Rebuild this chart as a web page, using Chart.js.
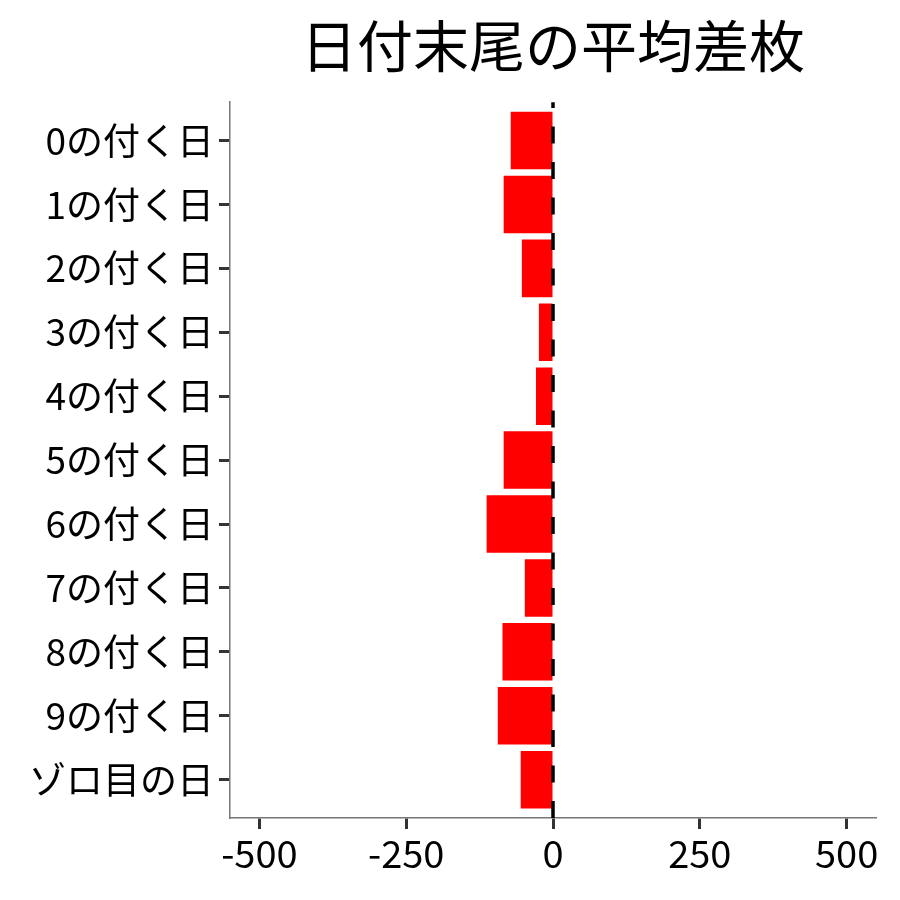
<!DOCTYPE html>
<html>
<head>
<meta charset="utf-8">
<script src="https://cdn.jsdelivr.net/npm/chart.js@4"></script>
<style>
  html, body { margin: 0; padding: 0; background: #fff; }
  #wrap { width: 900px; height: 900px; }
</style>
</head>
<body>
<div id="wrap"><canvas id="c" width="900" height="900"></canvas></div>
<script>
const titleText = '日付末尾の平均差枚';
const categories = ['0の付く日','1の付く日','2の付く日','3の付く日','4の付く日','5の付く日','6の付く日','7の付く日','8の付く日','9の付く日','ゾロ目の日'];
const avgDiff = [-72, -84, -53, -24, -29, -84, -113, -48, -86, -94, -55];
const xTicks = [-500, -250, 0, 250, 500];
const xMin = -550, xMax = 550;
const zeroLine = 0;

const FONT = '"Noto Sans CJK JP", "Noto Sans", sans-serif';

const dashedZero = {
  id: 'dashedZero',
  afterDatasetsDraw(chart) {
    const {ctx, chartArea, scales} = chart;
    const x = scales.x.getPixelForValue(zeroLine);
    ctx.save();
    ctx.beginPath();
    ctx.rect(chartArea.left, chartArea.top, chartArea.right - chartArea.left, chartArea.bottom - chartArea.top);
    ctx.clip();
    ctx.strokeStyle = '#000';
    ctx.lineWidth = 3.5;
    ctx.setLineDash([17, 18.5]);
    ctx.beginPath();
    ctx.moveTo(x, chartArea.bottom);
    ctx.lineTo(x, chartArea.top - 40);
    ctx.stroke();
    ctx.restore();
  }
};

new Chart(document.getElementById('c'), {
  type: 'bar',
  data: {
    datasets: [{
      data: avgDiff.map((v, i) => ({x: v, y: i + 1})),
      backgroundColor: '#FF0000',
      borderWidth: 0,
      categoryPercentage: 1.0,
      barPercentage: 0.9
    }]
  },
  options: {
    indexAxis: 'y',
    responsive: false,
    animation: false,
    devicePixelRatio: 1,
    layout: { padding: { left: 0, right: 24, top: 0, bottom: 0 } },
    plugins: {
      legend: { display: false },
      tooltip: { enabled: false },
      title: {
        display: true,
        text: titleText,
        fullSize: false,
        color: '#000',
        font: { family: FONT, size: 56, weight: 'normal' },
        padding: { top: 12, bottom: 23 }
      }
    },
    scales: {
      x: {
        type: 'linear',
        min: xMin,
        max: xMax,
        afterBuildTicks: (s) => { s.ticks = xTicks.map(v => ({value: v})); },
        afterFit: (s) => { s.height = 82; },
        grid: { drawOnChartArea: false, drawTicks: true, tickLength: 11, tickColor: '#333', tickWidth: 3 },
        border: { display: true, color: '#777', width: 1.5 },
        ticks: { color: '#000', font: { family: FONT, size: 38 }, padding: 2, maxRotation: 0 }
      },
      y: {
        type: 'linear',
        reverse: true,
        min: 0.4,
        max: 11.6,
        offset: false,
        afterBuildTicks: (s) => { s.ticks = categories.map((c, i) => ({value: i + 1})); },
        afterFit: (s) => { s.width = 230; },
        grid: { offset: false, drawOnChartArea: false, drawTicks: true, tickLength: 11, tickColor: '#333', tickWidth: 3 },
        border: { display: true, color: '#777', width: 1.5 },
        ticks: { color: '#000', font: { family: FONT, size: 37 }, padding: 5,
                 callback: (v) => categories[Math.round(v) - 1] }
      }
    }
  },
  plugins: [dashedZero]
});
</script>
</body>
</html>
